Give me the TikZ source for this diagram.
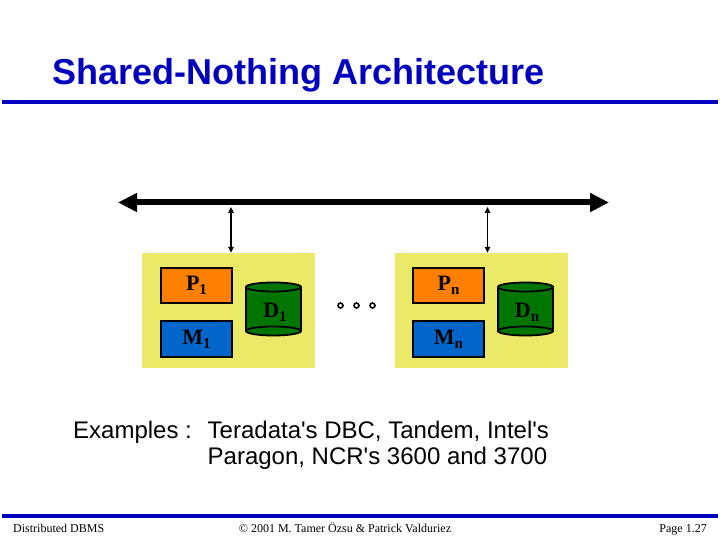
\documentclass[tikz,border=0pt]{standalone}
\usepackage{fontspec}
\setmainfont{Liberation Serif}
\newfontfamily\arialfont{Liberation Sans}
\usetikzlibrary{arrows.meta}
\definecolor{tblue}{RGB}{0,0,190}
\definecolor{ybox}{RGB}{234,234,104}
\definecolor{porange}{RGB}{255,128,0}
\definecolor{mblue}{RGB}{0,102,204}
\definecolor{dgreen}{RGB}{0,118,0}
\newcommand\lowsub[1]{\raisebox{-4pt}{\fontsize{15}{15}\selectfont #1}}
\tikzset{
  site/.style={fill=ybox, draw=none, minimum width=173pt, minimum height=115pt, inner sep=0pt},
  pbox/.style={fill=porange, draw=black, line width=1.8pt, minimum width=71pt, minimum height=35pt, inner sep=0pt, font=\fontsize{22}{22}\selectfont\bfseries},
  mbox/.style={fill=mblue, draw=black, line width=1.8pt, minimum width=71pt, minimum height=36pt, inner sep=0pt, font=\fontsize{22}{22}\selectfont\bfseries},
  dlabel/.style={inner sep=0pt, font=\fontsize{22}{22}\selectfont\bfseries},
  link/.style={line width=1.3pt, {Triangle[length=6pt,width=5.5pt]}-{Triangle[length=6pt,width=5.5pt]}},
  bus/.style={line width=6pt, {Triangle[length=19pt,width=18pt]}-{Triangle[length=19pt,width=18pt]}},
  foot/.style={inner sep=0pt, font=\fontsize{12}{12}\selectfont},
  body/.style={inner sep=0pt, font=\arialfont\fontsize{24}{24}\selectfont},
  dot/.style={circle, fill=white, draw=black, line width=1.6pt, minimum size=5pt, inner sep=0pt}
}
\begin{document}
\begin{tikzpicture}[x=1pt,y=-1pt]
\path[use as bounding box, fill=white] (0,0) rectangle (720,540);
% title
\node[anchor=base west, inner sep=0pt, text=tblue, font=\arialfont\bfseries\fontsize{36}{36}\selectfont] (title) at (52,85) {Shared-Nothing Architecture};
\fill[tblue] (2,100) rectangle (718,104);
% bus
\coordinate (busL) at (118,202.5);
\coordinate (busR) at (609,202.5);
\draw[bus] (busL) -- (busR);
% sites
\node[site] (box1) at (228.5,310.5) {};
\node[site] (box2) at (481,310.5) {};
\coordinate (a1) at (231,207);
\coordinate (a2) at (487.5,207);
\draw[link] (a1) -- (a1 |- box1.north);
\draw[link] (a2) -- (a2 |- box2.north);
% site 1
\node[pbox] (p1) at (196.5,285.5) {P\lowsub{1}};
\node[mbox] (m1) at (196.5,339) {M\lowsub{1}};
\fill[dgreen] (246,287) rectangle (301,331);
\fill[dgreen] (273.5,287) ellipse [x radius=27.5pt, y radius=4.5pt];
\fill[dgreen] (273.5,331) ellipse [x radius=27.5pt, y radius=4.5pt];
\draw[line width=1.8pt] (246,287) -- (246,331) (301,287) -- (301,331);
\draw[line width=1.8pt] (273.5,287) ellipse [x radius=27.5pt, y radius=4.5pt];
\draw[line width=1.8pt] (273.5,331) ellipse [x radius=27.5pt, y radius=4.5pt];
\node[dlabel] (d1) at (275,312) {D\lowsub{1}};
% dots
\node[dot] (dt1) at (340.5,305.5) {};
\node[dot] (dt2) at (356.5,305.5) {};
\node[dot] (dt3) at (372.5,305.5) {};
% site n
\node[pbox] (pn) at (448.5,285.5) {P\lowsub{n}};
\node[mbox] (mn) at (448.5,339) {M\lowsub{n}};
\fill[dgreen] (498,287) rectangle (553,331);
\fill[dgreen] (525.5,287) ellipse [x radius=27.5pt, y radius=4.5pt];
\fill[dgreen] (525.5,331) ellipse [x radius=27.5pt, y radius=4.5pt];
\draw[line width=1.8pt] (498,287) -- (498,331) (553,287) -- (553,331);
\draw[line width=1.8pt] (525.5,287) ellipse [x radius=27.5pt, y radius=4.5pt];
\draw[line width=1.8pt] (525.5,331) ellipse [x radius=27.5pt, y radius=4.5pt];
\node[dlabel] (dn) at (527,312) {D\lowsub{n}};
% examples
\node[body, anchor=base west] (ex) at (73,438) {Examples :};
\node[body, anchor=base west] (ex1) at (207.5,438) {Teradata's DBC, Tandem, Intel's};
\node[body, anchor=base west] (ex2) at (207.5,464.5) {Paragon, NCR's 3600 and 3700};
% footer
\fill[tblue] (2,514) rectangle (718,518);
\node[foot, anchor=base west] (f1) at (13,532) {Distributed DBMS};
\node[foot, anchor=base] (f2) at (345,532) {© 2001 M. Tamer Özsu \& Patrick Valduriez};
\node[foot, anchor=base east] (f3) at (707,532) {Page 1.27};
\end{tikzpicture}
\end{document}
